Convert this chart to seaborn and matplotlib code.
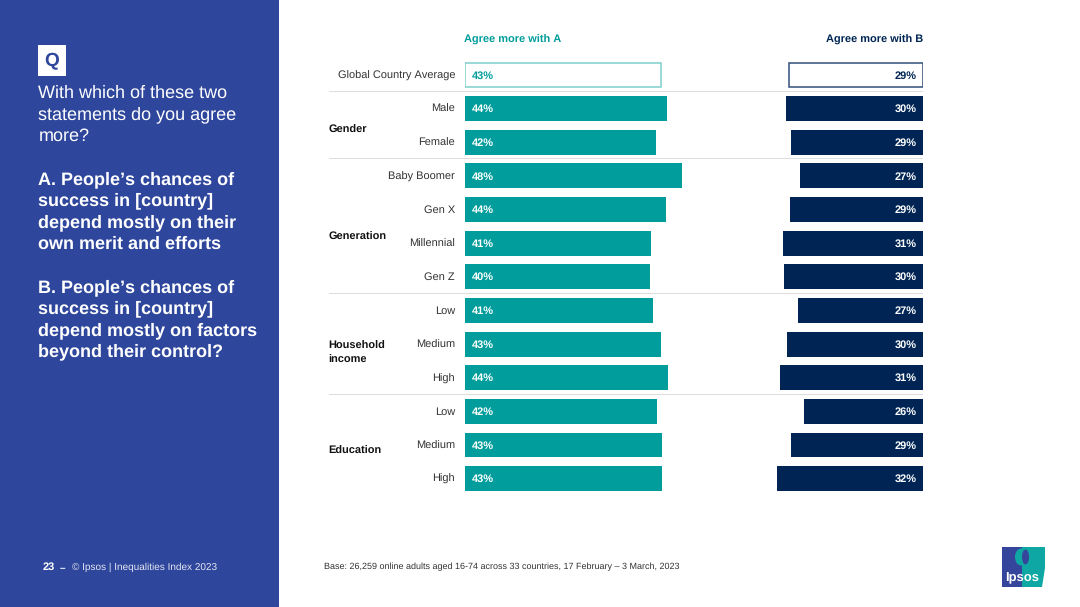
import matplotlib
matplotlib.use("Agg")
import matplotlib.pyplot as plt
from matplotlib.patches import Rectangle, Polygon, Ellipse
import seaborn as sns
import pandas as pd

sns.set_theme(style="white")
plt.rcParams['font.family'] = ['Liberation Sans', 'DejaVu Sans']
plt.rcParams['text.hinting'] = 'no_hinting'
plt.rcParams['text.hinting_factor'] = 1

labels = ["Global Country Average", "Male", "Female", "Baby Boomer", "Gen X", "Millennial", "Gen Z",
          "Low", "Medium", "High", "Low", "Medium", "High"]
agree_a = [43, 44.3, 41.9, 47.6, 44.1, 40.8, 40.6, 41.2, 43, 44.5, 42.1, 43.2, 43.2]
agree_b = [29.4, 30, 28.9, 27, 29.1, 30.7, 30.4, 27.4, 29.8, 31.3, 26, 29, 32]
shown_a = ["43%", "44%", "42%", "48%", "44%", "41%", "40%", "41%", "43%", "44%", "42%", "43%", "43%"]
shown_b = ["29%", "30%", "29%", "27%", "29%", "31%", "30%", "27%", "30%", "31%", "26%", "29%", "32%"]
groups = ["Gender", "Generation", "Household\nincome", "Education"]
group_y = [129, 236, 352.5, 450.5]
separators = [91.5, 158.5, 293.5, 394]

TEAL = "#009D9C"
NAVY = "#002554"
BLUE = "#2E469C"
W, H = 1080, 607

fig = plt.figure(figsize=(10.8, 6.07), dpi=100, facecolor="white")

def px_text(x, y, s, **kw):
    kw.setdefault("va", "center")
    return fig.text(x / W, 1 - (y + 0.7) / H, s, **kw)

def px_rect(x, y, w, h, **kw):
    fig.add_artist(Rectangle((x / W, 1 - (y + h) / H), w / W, h / H, transform=fig.transFigure, **kw))

# Left panel
px_rect(0, 0, 278.5, H, facecolor=BLUE, edgecolor="none")
px_rect(37.5, 45.5, 28.5, 30.5, facecolor="white", edgecolor="none")
px_text(51.5, 61, "Q", color=BLUE, fontsize=14, fontweight="bold", ha="center")

question = [("With which of these two", False, 92), ("statements do you agree", False, 113.5), ("more?", False, 135),
            ("A. People\u2019s chances of", True, 178.5), ("success in [country]", True, 200),
            ("depend mostly on their", True, 221.5), ("own merit and efforts", True, 243),
            ("B. People\u2019s chances of", True, 286.5), ("success in [country]", True, 308),
            ("depend mostly on factors", True, 329.5), ("beyond their control?", True, 351)]
for line, bold, y in question:
    px_text(38.5, y, line, color="white", fontsize=13.0, fontweight="bold" if bold else "normal")

px_text(43, 566.5, "23", color="white", fontsize=7.8, fontweight="bold")
px_text(60, 566.5, "\u2013", color="white", fontsize=7.4, fontweight="bold")
px_text(72, 566.5, "\u00a9 Ipsos | Inequalities Index 2023", color="#E4E7F2", fontsize=7.4)
px_text(324, 566, "Base: 26,259 online adults aged 16-74 across 33 countries, 17 February \u2013 3 March, 2023",
        color="#333333", fontsize=6.55)

# Chart panels
rows = list(range(len(labels)))
df = pd.DataFrame({"row": rows, "label": labels, "a": agree_a, "b": agree_b})
PX_PER_PT = 4.56
top, bottom = 58.2, 495.4
row_h = (bottom - top) / len(rows)

def make_axes(x0, x1):
    return fig.add_axes([x0 / W, 1 - bottom / H, (x1 - x0) / W, (bottom - top) / H])

ax_a = make_axes(465, 715)
ax_b = make_axes(735, 923)

sns.barplot(data=df, x="a", y="row", orient="h", native_scale=True, color=TEAL, width=0.74,
            saturation=1, ax=ax_a, errorbar=None, linewidth=0)
sns.barplot(data=df, x="b", y="row", orient="h", native_scale=True, color=NAVY, width=0.74,
            saturation=1, ax=ax_b, errorbar=None, linewidth=0)
ax_a.set_xlim(0, 250 / PX_PER_PT)
ax_b.set_xlim(188 / PX_PER_PT, 0)

for ax, col, shown, sign in ((ax_a, TEAL, shown_a, 1), (ax_b, NAVY, shown_b, -1)):
    ax.set_ylim(len(rows) - 0.5, -0.5)
    ax.axis("off")
    ax.patch.set_alpha(0)
    first = ax.patches[0]
    first.set_facecolor("white")
    first.set_edgecolor("#7FCFCD" if col == TEAL else "#33507A")
    first.set_linewidth(1.1)
    for i, s in enumerate(shown):
        c = col if i == 0 else "white"
        ax.text(1.45, i + 0.02, s, color=c, fontsize=8.2, fontweight="bold", ha="left" if sign > 0 else "right",
                va="center")

for i, lab in enumerate(labels):
    px_text(455, top + (i + 0.5) * row_h, lab, color="#333333", fontsize=8.25, ha="right")
for g, y in zip(groups, group_y):
    px_text(328.5, y, g, color="#111111", fontsize=8.15, fontweight="bold", linespacing=1.4)
for y in separators:
    px_rect(329, y - 0.5, 594, 1.0, facecolor="#DEDEDE", edgecolor="none")

px_text(464, 39, "Agree more with A", color=TEAL, fontsize=8.15, fontweight="bold")
px_text(923, 39, "Agree more with B", color=NAVY, fontsize=8.15, fontweight="bold", ha="right")

# Logo
px_rect(1002, 547, 22, 40, facecolor="#35459B", edgecolor="none")
fig.add_artist(Polygon([(1022 / W, 1 - 547 / H), (1045 / W, 1 - 547 / H), (1045 / W, 1 - 568 / H),
                        (1042 / W, 1 - 587 / H), (1022 / W, 1 - 587 / H)],
                       closed=True, transform=fig.transFigure, facecolor="#0FA7A3", edgecolor="none"))
fig.add_artist(Ellipse((1021 / W, 1 - 557 / H), 12 / W, 17 / H, transform=fig.transFigure,
                       facecolor="#0FA7A3", edgecolor="none"))
fig.add_artist(Ellipse((1025.5 / W, 1 - 557 / H), 7 / W, 15 / H, transform=fig.transFigure,
                       facecolor="#35459B", edgecolor="none"))
px_text(1022, 577, "Ipsos", color="white", fontsize=9.5, fontweight="bold", ha="center")

fig.savefig("out.png", dpi=100)
